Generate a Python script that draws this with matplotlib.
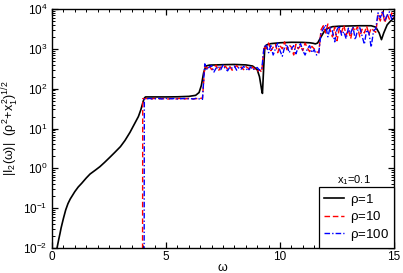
import matplotlib
matplotlib.use("Agg")
import matplotlib.pyplot as plt
from matplotlib.ticker import MultipleLocator, LogLocator

plt.rcParams['font.family'] = ['Liberation Sans', 'DejaVu Sans']
plt.rcParams['mathtext.fontset'] = 'custom'
plt.rcParams['mathtext.rm'] = 'Liberation Sans'
plt.rcParams['mathtext.it'] = 'Liberation Sans'
plt.rcParams['mathtext.bf'] = 'Liberation Sans:bold'

# ---- data: rho = 1 (smooth curve) ----
omega_r1 = [0.22, 0.26, 0.3, 0.35, 0.4, 0.5, 0.6, 0.7, 0.8, 0.9, 1.0, 1.15, 1.3, 1.5,
            1.67, 1.9, 2.1, 2.3, 2.54, 2.75, 3.0, 3.2, 3.42, 3.6, 3.79, 3.9, 3.95, 4.0,
            4.05, 4.1, 4.5, 5.0, 5.5, 6.0, 6.3, 6.45, 6.55, 6.65, 6.75, 6.9,
            7.5, 8.0, 8.5, 8.8, 9.0, 9.1, 9.2, 9.23, 9.28, 9.33, 9.4, 9.6, 10.0,
            10.5, 11.0, 11.3, 11.45, 11.55, 11.65, 11.8, 11.95, 12.1, 12.3, 12.6,
            13.0, 13.5, 14.0, 14.2, 14.35, 14.45, 14.55, 14.7, 14.85, 15.0]
I_r1 = [0.01, 0.013, 0.017, 0.023, 0.032, 0.055, 0.09, 0.13, 0.17, 0.21, 0.26, 0.34, 0.42, 0.57,
        0.72, 0.9, 1.1, 1.4, 1.9, 2.5, 3.5, 5.0, 8.0, 12.5, 20.0, 30.0, 38.0, 48.0,
        58.0, 62.0, 62.0, 62.0, 62.5, 64.0, 68.0, 80.0, 120.0, 250.0, 370.0, 390.0,
        400.0, 405.0, 395.0, 370.0, 300.0, 200.0, 90.0, 76.0, 300.0, 1000.0, 1250.0, 1350.0, 1420.0,
        1460.0, 1450.0, 1420.0, 1380.0, 1330.0, 1400.0, 2000.0, 2800.0, 3300.0, 3600.0, 3700.0,
        3750.0, 3800.0, 3800.0, 3500.0, 2500.0, 1700.0, 2500.0, 4000.0, 5000.0, 5900.0]

# ---- shared sampling grid for noisy series ----
omega_noisy = [4.1, 4.2, 4.3, 4.4, 4.5, 4.6, 4.7, 4.8, 4.9, 5.0, 5.1, 5.2, 5.3, 5.4, 5.5,
               5.6, 5.7, 5.8, 5.9, 6.0, 6.1, 6.2, 6.3, 6.4, 6.5, 6.6,
               6.7, 6.8, 6.9, 7.0, 7.1, 7.2, 7.3, 7.4, 7.5, 7.6, 7.7, 7.8, 7.9, 8.0, 8.1,
               8.2, 8.3, 8.4, 8.5, 8.6, 8.7, 8.8, 8.9, 9.0, 9.1, 9.2,
               9.3, 9.4, 9.5, 9.6, 9.7, 9.8, 9.9, 10.0, 10.1, 10.2, 10.3, 10.4, 10.5, 10.6,
               10.7, 10.8, 10.9, 11.0, 11.1, 11.2, 11.3, 11.4, 11.5, 11.6, 11.7,
               11.8, 11.9, 12.0, 12.1, 12.2, 12.3, 12.4, 12.5, 12.6, 12.7, 12.8, 12.9, 13.0,
               13.1, 13.2, 13.3, 13.4, 13.5, 13.6, 13.7, 13.8, 13.9, 14.0, 14.1, 14.2,
               14.3, 14.4, 14.5, 14.6, 14.7, 14.8, 14.9, 15.0]

# ---- rho = 10 ----
omega_r10 = [3.97, 3.98] + omega_noisy
I_r10 = [0.001, 56.0,
         56, 57, 55, 56, 57, 56, 55, 57, 56, 56, 55, 57, 56, 55, 56, 57, 56, 55, 56, 57,
         56, 55, 56, 57, 57, 58,
         360, 320, 380, 300, 340, 390, 280, 350, 330, 370, 310, 360, 290, 340, 380, 320,
         350, 300, 360, 330, 290, 350, 310, 270, 300, 260,
         1200, 1000, 1400, 900, 1100, 1300, 800, 1200, 1000, 1500, 950, 1250, 1100, 700,
         1300, 1000, 1200, 900, 1400, 1050, 850, 1150, 1000, 850, 800,
         3000, 3800, 2500, 4200, 3000, 2000, 3500, 1600, 3200, 2600, 3900, 2200, 3000,
         1800, 3400, 2800, 3600, 2000, 3100, 2500, 3700, 2300, 3300, 2900, 2600,
         7000, 5000, 8500, 4500, 7500, 5500, 8000, 6000]

# ---- rho = 100 ----
omega_r100 = [4.04, 4.05] + omega_noisy
I_r100 = [0.001, 55.0,
          55, 56, 57, 55, 56, 56, 57, 55, 56, 57, 55, 56, 56, 57, 55, 56, 56, 57, 55, 56,
          56, 55, 57, 56, 55, 54,
          420, 300, 350, 380, 260, 330, 360, 300, 390, 320, 280, 350, 330, 370, 290, 340,
          310, 360, 330, 280, 350, 300, 320, 340, 290, 310,
          1100, 1300, 800, 1200, 700, 1000, 1400, 900, 650, 1100, 1300, 800, 1000, 1200,
          750, 1100, 1350, 900, 700, 1000, 1200, 800, 950, 700, 780,
          2500, 3200, 4000, 2000, 3500, 2800, 1500, 3000, 3800, 2200, 2700, 1800, 3300,
          2400, 3600, 1700, 2900, 3400, 2100, 1300, 3000, 2500, 1100, 2800, 3200,
          8000, 6000, 9000, 5000, 7000, 8500, 5500, 7500]

labels = [r'$\rho$=1', r'$\rho$=10', r'$\rho$=100']

fig = plt.figure(figsize=(4.03, 2.73), dpi=100)
ax = fig.add_axes([52/403, 1-248/273, (394-52)/403, (248-9)/273])

ax.plot(omega_r1, I_r1, color='black', lw=1.2, label=labels[0])
ax.plot(omega_r10, I_r10, color='red', lw=1.0, ls='--', dashes=(4, 2), label=labels[1])
ax.plot(omega_r100, I_r100, color='blue', lw=1.0, ls='-.', dashes=(4, 1.5, 1, 1.5), label=labels[2])

ax.set_yscale('log')
ax.set_xlim(0, 15)
ax.set_ylim(1e-2, 1e4)
ax.xaxis.set_major_locator(MultipleLocator(5))
ax.xaxis.set_minor_locator(MultipleLocator(0.5))
ax.yaxis.set_major_locator(LogLocator(base=10, numticks=20))
ax.yaxis.set_minor_locator(LogLocator(base=10, subs=range(2, 10), numticks=100))
ax.tick_params(which='both', direction='in', top=True, right=True, labelsize=8.5)
ax.tick_params(axis='x', pad=2.5)
ax.tick_params(which='major', length=4.5, width=0.9)
ax.tick_params(which='minor', length=2.3, width=0.7)
for s in ax.spines.values():
    s.set_linewidth(1.0)

ax.set_xlabel(r'$\omega$', fontsize=9, labelpad=-1)
ax.set_ylabel(r'$|\mathrm{I}_2(\omega)|\ \ (\rho^2\!+\!x_1^2)^{1/2}$', fontsize=9, labelpad=1)

leg = ax.legend(loc='lower right', fontsize=9.5, frameon=True, fancybox=False,
                edgecolor='black', framealpha=1, borderaxespad=0, handlelength=1.5,
                handletextpad=0.45, borderpad=0.4, labelspacing=0.1)
leg.get_frame().set_linewidth(0.9)
ax.text(0.883, 0.255, r'x$_1$=0.1', transform=ax.transAxes, fontsize=8,
        ha='center', va='bottom')

fig.savefig('out.png', dpi=100)
